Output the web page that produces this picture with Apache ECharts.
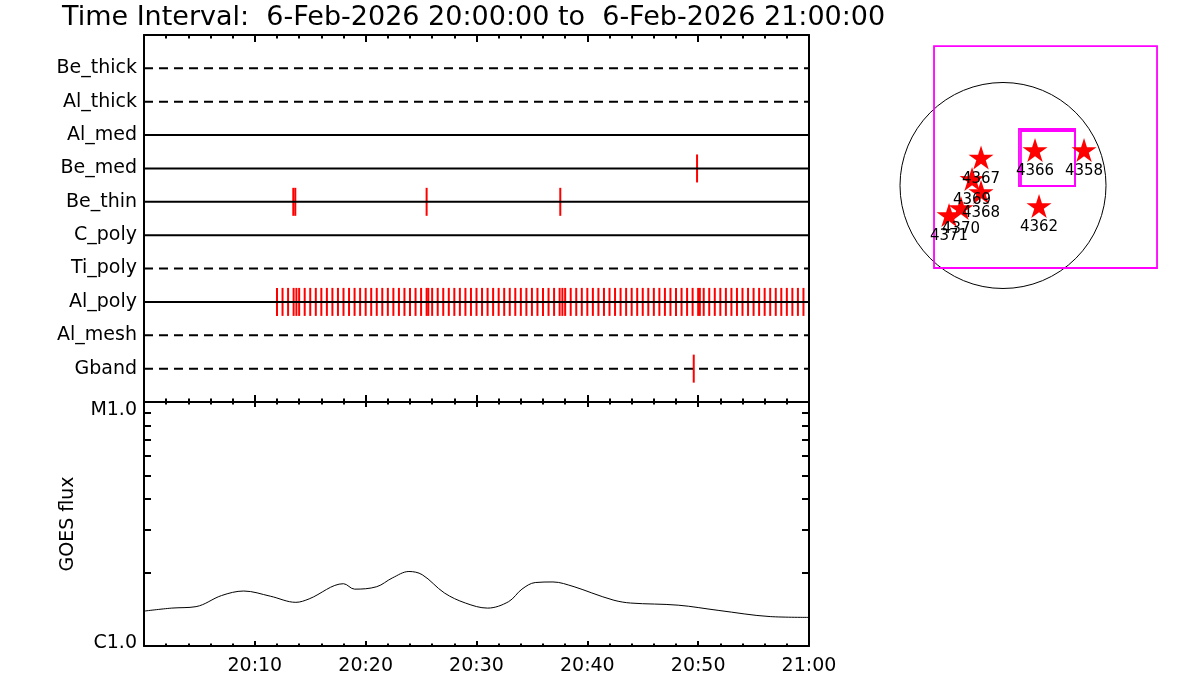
<!DOCTYPE html>
<html>
<head>
<meta charset="utf-8">
<script src="https://cdn.jsdelivr.net/npm/echarts@6/dist/echarts.min.js"></script>
<style>
html,body{margin:0;padding:0;background:#ffffff;}
#chart{width:1200px;height:700px;}
</style>
</head>
<body>
<div id="chart"></div>
<script>
// ---------------- DATA ----------------
const titleText = 'Time Interval:  6-Feb-2026 20:00:00 to  6-Feb-2026 21:00:00';

// detector rows, top to bottom
const rowNames = ['Be_thick', 'Al_thick', 'Al_med', 'Be_med', 'Be_thin', 'C_poly', 'Ti_poly', 'Al_poly', 'Al_mesh', 'Gband'];

// time axis: minutes after 20:00
const timeMin = 0;
const timeMax = 60;
const timeTickLabels = ['', '20:10', '20:20', '20:30', '20:40', '20:50', '21:00'];

// event times (minutes after 20:00) per row
const eventsBeMed = [49.9];
const eventsBeThin = [13.47, 13.65, 25.5, 37.56];
const eventsAlPoly = [12.0, 12.5, 13.0, 13.5, 14.0, 14.5, 15.0, 15.5, 16.0, 16.5, 17.0, 17.5,
  18.0, 18.5, 19.0, 19.5, 20.0, 20.5, 21.0, 21.5, 22.0, 22.5, 23.0, 23.5, 24.0, 24.5, 25.0, 25.5,
  26.0, 26.5, 27.0, 27.5, 28.0, 28.5, 29.0, 29.5, 30.0, 30.5, 31.0, 31.5, 32.0, 32.5, 33.0, 33.5,
  34.0, 34.5, 35.0, 35.5, 36.0, 36.5, 37.0, 37.5, 38.0, 38.5, 39.0, 39.5, 40.0, 40.5, 41.0, 41.5,
  42.0, 42.5, 43.0, 43.5, 44.0, 44.5, 45.0, 45.5, 46.0, 46.5, 47.0, 47.5, 48.0, 48.5, 49.0, 49.5,
  50.0, 50.5, 51.0, 51.5, 52.0, 52.5, 53.0, 53.5, 54.0, 54.5, 55.0, 55.5, 56.0, 56.5, 57.0, 57.5,
  58.0, 58.5, 59.0, 59.5,
  13.75, 25.65, 37.75, 50.15];
const eventsGband = [49.6];

// GOES flux curve
const goesMinutes = [0, 2.5, 4.7, 7.0, 9.0, 11.4, 13.7, 14.9, 18.0, 19.0, 21.0, 22.4, 23.9, 25.1,
  27.1, 29.0, 31.0, 32.9, 34.1, 35.3, 36.9, 38.8, 40.4, 42.4, 43.9, 48.2, 51.8, 56.5, 60];
const goesFlux = [1.39e-6, 1.43e-6, 1.45e-6, 1.61e-6, 1.68e-6, 1.60e-6, 1.51e-6, 1.56e-6, 1.80e-6,
  1.71e-6, 1.75e-6, 1.90e-6, 2.02e-6, 1.96e-6, 1.65e-6, 1.50e-6, 1.43e-6, 1.52e-6, 1.71e-6,
  1.82e-6, 1.83e-6, 1.75e-6, 1.65e-6, 1.54e-6, 1.50e-6, 1.47e-6, 1.40e-6, 1.32e-6, 1.31e-6];
const fluxMin = 1e-6;
const fluxMax = 1e-5;
const fluxTickValues = [1e-6, 1e-5];
const fluxTickLabels = ['C1.0', 'M1.0'];
const fluxMinorTickValues = [2e-6, 3e-6, 4e-6, 5e-6, 6e-6, 7e-6, 8e-6, 9e-6];

// solar disc map (arcsec)
const sunRadius = 975;
const regionNumbers = ['4367', '4369', '4368', '4370', '4371', '4366', '4358', '4362'];
const regionX = [-208, -293, -208, -398, -511, 303, 767, 341];
const regionY = [265, 62, -62, -213, -279, 336, 336, -194];
const fovBox = [-653, -781, 1458, 1320];             // x1, y1, x2, y2
const subBoxes = [[151, -5, 682, 535], [170, -5, 682, 516]];

// ---------------- STYLE / LAYOUT ----------------
const FONT = 'DejaVu Sans';
const dashedRows = ['Be_thick', 'Al_thick', 'Ti_poly', 'Al_mesh', 'Gband'];
const eventsByRow = { 'Be_med': eventsBeMed, 'Be_thin': eventsBeThin, 'Al_poly': eventsAlPoly, 'Gband': eventsGband };

function rowValue(name) { return rowNames.length - rowNames.indexOf(name); }

const black = '#000000';
const axisLine = { show: true, onZero: false, lineStyle: { color: black, width: 2 } };

function timeAxis(gridIndex, position, tickLen, showLabel) {
  return {
    type: 'value', gridIndex: gridIndex, position: position,
    min: timeMin, max: timeMax, interval: 10,
    axisLine: axisLine,
    axisTick: { show: true, inside: true, length: tickLen, lineStyle: { color: black, width: 2 } },
    minorTick: { show: true, splitNumber: 5, length: tickLen / 2, lineStyle: { color: black, width: 2 } },
    splitLine: { show: false }, minorSplitLine: { show: false },
    axisLabel: {
      show: showLabel, color: black, fontFamily: FONT, fontSize: 19, margin: 11,
      formatter: function (v) { return timeTickLabels[Math.round(v / 10)] || ''; }
    }
  };
}

const rowSeries = rowNames.map(function (name) {
  const v = rowValue(name);
  return {
    type: 'line', xAxisIndex: 0, yAxisIndex: 0, silent: true, symbol: 'none', z: 4,
    data: [[timeMin, v], [timeMax, v]],
    lineStyle: { color: black, width: 2, type: dashedRows.indexOf(name) >= 0 ? [9, 6] : 'solid' }
  };
});

const eventData = [];
Object.keys(eventsByRow).forEach(function (name) {
  eventsByRow[name].forEach(function (t) { eventData.push([t, rowValue(name)]); });
});

const eventSeries = {
  type: 'custom', xAxisIndex: 0, yAxisIndex: 0, silent: true, z: 3,
  data: eventData,
  encode: { x: 0, y: 1 },
  renderItem: function (params, api) {
    const p = api.coord([api.value(0), api.value(1)]);
    return {
      type: 'line',
      shape: { x1: p[0], y1: p[1] - 14, x2: p[0], y2: p[1] + 14 },
      style: { stroke: '#ff0000', lineWidth: 2 }
    };
  }
};

const goesSeries = {
  type: 'line', xAxisIndex: 2, yAxisIndex: 2, silent: true, symbol: 'none', smooth: 0.35,
  data: goesMinutes.map(function (t, i) { return [t, goesFlux[i]]; }),
  lineStyle: { color: black, width: 1 }
};

const discSeries = {
  type: 'custom', xAxisIndex: 4, yAxisIndex: 5, silent: true, z: 2,
  data: [[0, 0, sunRadius]],
  renderItem: function (params, api) {
    const c = api.coord([api.value(0), api.value(1)]);
    const r = api.size([api.value(2), 0])[0];
    return { type: 'circle', shape: { cx: c[0], cy: c[1], r: r }, style: { fill: 'none', stroke: black, lineWidth: 1 } };
  }
};

const boxSeries = {
  type: 'custom', xAxisIndex: 4, yAxisIndex: 5, silent: true, z: 3,
  data: [fovBox].concat(subBoxes),
  renderItem: function (params, api) {
    const a = api.coord([api.value(0), api.value(1)]);
    const b = api.coord([api.value(2), api.value(3)]);
    return {
      type: 'rect',
      shape: { x: Math.min(a[0], b[0]), y: Math.min(a[1], b[1]), width: Math.abs(b[0] - a[0]), height: Math.abs(b[1] - a[1]) },
      style: { fill: 'none', stroke: '#ff00ff', lineWidth: 1.8 }
    };
  }
};

const starPath = 'path://M50,0 L61.17,34.63 L97.55,34.55 L68.07,55.87 L79.39,90.45 L50,69 L20.61,90.45 L31.93,55.87 L2.45,34.55 L38.83,34.63 Z';

const starSeries = {
  type: 'scatter', xAxisIndex: 4, yAxisIndex: 5, silent: true, z: 5,
  symbol: starPath, symbolSize: [25, 24],
  itemStyle: { color: '#ff0000', opacity: 1 },
  data: regionNumbers.map(function (n, i) { return { name: n, value: [regionX[i], regionY[i]] }; }),
  label: {
    show: true, position: 'bottom', distance: 2, color: black, opacity: 1, fontFamily: FONT, fontSize: 15,
    formatter: function (p) { return p.name; }
  }
};

const option = {
  animation: false,
  backgroundColor: '#ffffff',
  textStyle: { fontFamily: FONT, color: black },
  title: {
    text: titleText, left: 62, top: 4, padding: 0,
    textStyle: { fontFamily: FONT, fontSize: 27, fontWeight: 'normal', color: black }
  },
  grid: [
    { left: 144, top: 35, width: 665, height: 367, outerBoundsMode: 'none', containLabel: false },
    { left: 144, top: 402, width: 665, height: 244, outerBoundsMode: 'none', containLabel: false },
    { left: 886.8, top: 37.6, width: 295.8, height: 264.1, outerBoundsMode: 'none', containLabel: false }
  ],
  xAxis: [
    timeAxis(0, 'bottom', 7, false),
    timeAxis(0, 'top', 7, false),
    timeAxis(1, 'bottom', 5, true),
    timeAxis(1, 'top', 5, false),
    { type: 'value', gridIndex: 2, min: -1100, max: 1700, show: false, splitLine: { show: false } }
  ],
  yAxis: [
    {
      type: 'value', gridIndex: 0, position: 'left', min: 0, max: rowNames.length + 1, interval: 1,
      axisLine: axisLine, axisTick: { show: false }, splitLine: { show: false },
      axisLabel: {
        color: black, fontFamily: FONT, fontSize: 19, margin: 7,
        formatter: function (v) { return (v >= 1 && v <= rowNames.length) ? rowNames[rowNames.length - v] : ''; }
      }
    },
    {
      type: 'value', gridIndex: 0, position: 'right', min: 0, max: rowNames.length + 1, interval: 1,
      axisLine: axisLine, axisTick: { show: false }, splitLine: { show: false }, axisLabel: { show: false }
    },
    {
      type: 'log', logBase: 10, gridIndex: 1, position: 'left', min: fluxMin, max: fluxMax,
      axisLine: axisLine, axisTick: { show: false }, splitLine: { show: false }, minorTick: { show: false },
      name: 'GOES flux', nameLocation: 'middle', nameRotate: 90, nameGap: 66,
      nameTextStyle: { fontFamily: FONT, fontSize: 19, color: black },
      axisLabel: {
        color: black, fontFamily: FONT, fontSize: 19, margin: 7,
        formatter: function (v) {
          const i = Math.round(Math.log10(v) - Math.log10(fluxTickValues[0]));
          const lab = fluxTickLabels[i] || '';
          return i === 0 ? '{lo|' + lab + '}' : '{hi|' + lab + '}';
        },
        rich: {
          lo: { fontFamily: FONT, fontSize: 19, color: black, padding: [0, 0, 6, 0] },
          hi: { fontFamily: FONT, fontSize: 19, color: black, padding: [17, 0, 0, 0] }
        }
      }
    },
    {
      type: 'value', gridIndex: 1, position: 'left', min: Math.log10(fluxMin), max: Math.log10(fluxMax),
      axisLine: { show: false, onZero: false }, splitLine: { show: false }, axisLabel: { show: false },
      axisTick: { show: true, inside: true, length: 7, lineStyle: { color: black, width: 2 },
        customValues: fluxMinorTickValues.map(Math.log10) }
    },
    {
      type: 'value', gridIndex: 1, position: 'right', min: Math.log10(fluxMin), max: Math.log10(fluxMax),
      axisLine: axisLine, splitLine: { show: false }, axisLabel: { show: false },
      axisTick: { show: true, inside: true, length: 7, lineStyle: { color: black, width: 2 },
        customValues: fluxMinorTickValues.map(Math.log10) }
    },
    { type: 'value', gridIndex: 2, min: -1100, max: 1400, show: false, splitLine: { show: false } }
  ],
  series: [eventSeries].concat(rowSeries, [goesSeries, discSeries, boxSeries, starSeries])
};

const chart = echarts.init(document.getElementById('chart'), null, { renderer: 'canvas' });
chart.setOption(option);
</script>
</body>
</html>
